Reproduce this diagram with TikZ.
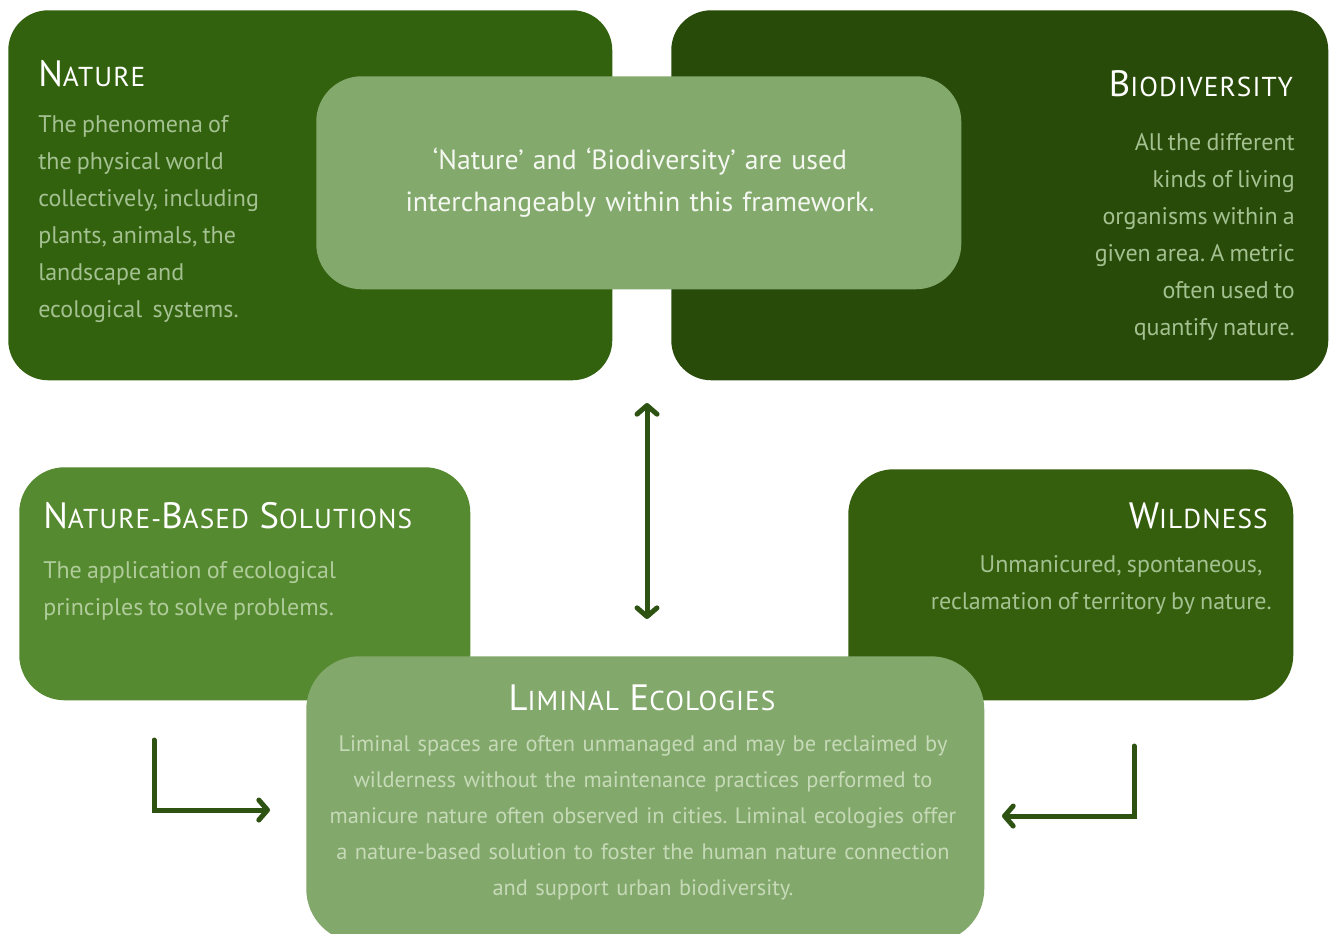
\documentclass[tikz,border=0pt]{standalone}
\usepackage{fontspec}
\setmainfont[WordSpace=0.8]{PT Sans}
\newfontfamily\titlefont[LetterSpace=4]{PT Sans}
\usetikzlibrary{arrows.meta}
\frenchspacing

\definecolor{natureC}{HTML}{33620F}
\definecolor{bioC}{HTML}{294B09}
\definecolor{paleC}{HTML}{83A96D}
\definecolor{nbsC}{HTML}{568A30}
\definecolor{wildC}{HTML}{355F0D}
\definecolor{limC}{HTML}{82A86B}
\definecolor{arrowC}{HTML}{2E5211}
\definecolor{bodyDark}{HTML}{A4C191}
\definecolor{bodyNbs}{HTML}{AFCC9A}
\definecolor{bodyLim}{HTML}{C6DAB8}
\definecolor{titleC}{HTML}{F4F8F0}

% small-caps style heading: large initial, smaller capitals after it
\newcommand{\capsword}[2]{{\titlefont\fontsize{27.5}{30}\selectfont #1}{\titlefont\fontsize{20.5}{30}\selectfont #2}}
\newcommand{\capsgap}{\hspace{8pt}}

\tikzset{
  panel/.style={draw=none, rounded corners=30pt, anchor=north west, inner sep=0pt},
  heading/.style={text=white, inner sep=0pt},
  bodytext/.style={inner sep=0pt, font=\fontsize{18}{27.75}\selectfont},
  conn/.style={draw=arrowC, line width=3.75pt, line cap=round, line join=miter},
  tip/.tip={Straight Barb[length=6.5pt, width=15pt, line cap=round, line join=round]}
}

\begin{document}
\begin{tikzpicture}[x=0.75pt, y=-0.75pt]
  \useasboundingbox (0,0) rectangle (1330,933);
  \clip (0,0) rectangle (1330,933);
  \fill[white] (0,0) rectangle (1330,933);

  % upper pair of definition panels and the note laid over them
  \node[panel, fill=natureC, minimum width=604*0.75pt, minimum height=370*0.75pt] (nature) at (8,10) {};
  \node[panel, fill=bioC, minimum width=657*0.75pt, minimum height=370*0.75pt] (biodiv) at (671,10) {};
  \node[panel, fill=paleC, rounded corners=34pt, minimum width=645*0.75pt, minimum height=213*0.75pt] (note) at (316,76) {};

  % lower pair of panels and the central panel
  \node[panel, fill=nbsC, rounded corners=34pt, minimum width=451*0.75pt, minimum height=233*0.75pt] (nbs) at (19,467) {};
  \node[panel, fill=wildC, rounded corners=34pt, minimum width=445*0.75pt, minimum height=231*0.75pt] (wild) at (848,469) {};
  \node[panel, fill=limC, rounded corners=40pt, minimum width=678*0.75pt, minimum height=286*0.75pt] (liminal) at (306,656) {};

  % Nature
  \node[heading, anchor=base west] (natureT) at (38,86) {\capsword{N}{ATURE}};
  \node[bodytext, text=bodyDark, anchor=base west, text width=260*0.75pt, align=flush left] (natureB) at (38,132)
    {The phenomena of\\ the physical world\\ collectively, including\\ plants, animals, the\\ landscape and\\ ecological\ \ systems.};

  % Biodiversity
  \node[heading, anchor=base east] (biodivT) at (1293,96) {\capsword{B}{IODIVERSITY}};
  \node[bodytext, text=bodyDark, anchor=base east, text width=240*0.75pt, align=flush right] (biodivB) at (1295,150)
    {All the different\\ kinds of living\\ organisms within a\\ given area. A metric\\ often used to\\ quantify nature.};

  % note
  \node[inner sep=0pt, text=titleC, anchor=base, text width=600*0.75pt, align=center,
        font=\fontsize{20.8}{31.5}\selectfont] (noteT) at (640,169)
    {`Nature' and `Biodiversity' are used\\ interchangeably within this framework.};

  % Nature-Based Solutions
  \node[heading, anchor=base west] (nbsT) at (43,528)
    {\capsword{N}{ATURE-}\capsword{B}{ASED}\capsgap\capsword{S}{OLUTIONS}};
  \node[bodytext, text=bodyNbs, anchor=base west, text width=330*0.75pt, align=flush left] (nbsB) at (43,578)
    {The application of ecological\\ principles to solve problems.};

  % Wildness
  \node[heading, anchor=base east] (wildT) at (1268,528) {\capsword{W}{ILDNESS}};
  \node[bodytext, text=bodyDark, anchor=base east, text width=380*0.75pt, align=flush right] (wildB) at (1272,572)
    {Unmanicured, spontaneous,\kern7pt\\ reclamation of territory by nature.};

  % Liminal Ecologies
  \node[heading, anchor=base] (limT) at (642,710) {\capsword{L}{IMINAL}\capsgap\capsword{E}{COLOGIES}};
  \node[inner sep=0pt, text=bodyLim, anchor=base, text width=660*0.75pt, align=center,
        font=\fontsize{16.8}{27}\selectfont] (limB) at (643,751)
    {Liminal spaces are often unmanaged and may be reclaimed by\\ wilderness without the maintenance practices performed to\\ manicure nature often observed in cities. Liminal ecologies offer\\ a nature-based solution to foster the human nature connection\\ and support urban biodiversity.};

  % connectors
  \coordinate (linkTop) at (647,403);
  \coordinate (linkBot) at (647,619);
  \draw[conn, {tip}-{tip}] (linkTop) -- (linkBot);

  \coordinate (leftStart) at (154,740);
  \coordinate (leftEnd) at (270,810);
  \draw[conn, -{tip}] (leftStart) |- (leftEnd);

  \coordinate (rightStart) at (1134,746);
  \coordinate (rightEnd) at (1002,816);
  \draw[conn, -{tip}] (rightStart) |- (rightEnd);
\end{tikzpicture}
\end{document}
